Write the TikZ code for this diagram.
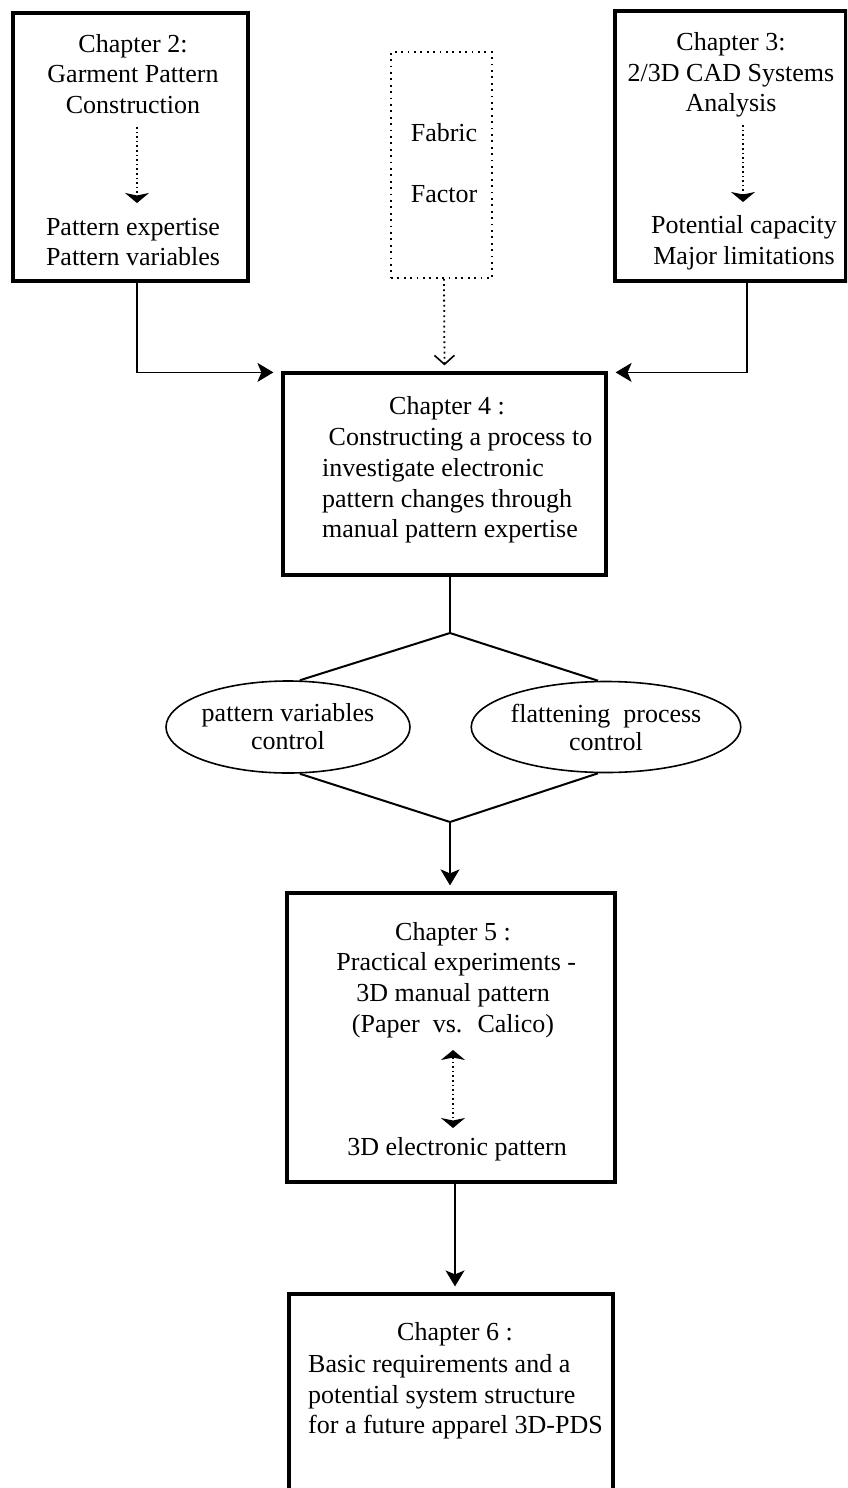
\documentclass[tikz,border=0pt]{standalone}
\usepackage{fontspec}
\setmainfont{Liberation Serif}
\usetikzlibrary{arrows.meta,shapes.geometric}

\begin{document}
\begin{tikzpicture}[x=1pt,y=-1pt,
  chapbox/.style={draw, line width=3.2pt, inner sep=0pt},
  factorbox/.style={draw, line width=1.8pt, dash pattern=on 1.8pt off 4.6pt, inner sep=0pt},
  txt/.style={font=\fontsize{26}{30.6}\selectfont, align=center, inner sep=0pt},
  txtleft/.style={font=\fontsize{26}{30.6}\selectfont, align=left, inner sep=0pt, anchor=west},
  oval/.style={draw, ellipse, line width=1.6pt, fill=white, inner sep=0pt,
               font=\fontsize{26}{28}\selectfont, align=center},
  conn/.style={line width=1.4pt, -{Stealth[length=16pt,width=19pt,inset=4pt]}},
  plainline/.style={line width=1.4pt},
  rhomb/.style={line width=2pt},
  dotarrow/.style={line width=1.6pt, dash pattern=on 1.6pt off 3pt,
                   -{Stealth[length=10pt,width=24pt,inset=2.5pt]}},
  dotboth/.style={line width=1.6pt, dash pattern=on 1.6pt off 3pt,
                  {Stealth[length=10pt,width=24pt,inset=2.5pt]}-{Stealth[length=10pt,width=24pt,inset=2.5pt]}},
  fabarrow/.style={line width=1.8pt, dash pattern=on 1.8pt off 3.4pt,
                   -{Straight Barb[length=9pt,width=20pt,line width=1.6pt]}}
]
\useasboundingbox (0,0) rectangle (847,1488);
\clip (0,0) rectangle (847,1488);

% chapter frames
\node[chapbox, minimum width=235pt, minimum height=268pt] (c2) at (130.5,147) {};
\node[factorbox, minimum width=101pt, minimum height=226pt] (fab) at (441.5,165) {};
\node[chapbox, minimum width=231pt, minimum height=270pt] (c3) at (730.5,146) {};
\node[chapbox, minimum width=323pt, minimum height=202pt] (c4) at (444.5,474) {};
\node[chapbox, minimum width=328pt, minimum height=289pt] (c5) at (451,1037.5) {};
\node[chapbox, minimum width=324pt, minimum height=216pt] (c6) at (451,1402) {};

% chapter 2
\node[txt] (c2a) at (133,74) {Chapter 2:\\Garment Pattern\\Construction};
\node[txt] (c2b) at (133,242) {Pattern expertise\\Pattern variables};
\coordinate (c2s) at (137,127);
\coordinate (c2e) at (137,203);
\draw[dotarrow] (c2s) -- (c2e);

% fabric factor
\node[txt] (fa) at (444,133) {Fabric};
\node[txt] (fb) at (444,194) {Factor};

% chapter 3
\node[txt] (c3a) at (731,75) {Chapter 3:\\2/3D CAD Systems\\Analysis};
\node[txt] (c3b) at (744,243) {Potential capacity\\Major limitations};
\coordinate (c3s) at (743,125);
\coordinate (c3e) at (743,202);
\draw[dotarrow] (c3s) -- (c3e);

% chapter 4
\node[txt] (c4a) at (447,408) {Chapter 4 :};
\node[txtleft] (c4b) at (322,486) {\ Constructing a process to\\investigate electronic\\pattern changes through\\manual pattern expertise};

% the two controls
\coordinate (dtop) at (450,633);
\coordinate (dbot) at (450,822);
\node[oval, minimum width=230pt, minimum height=92pt] (pv) at (288,727)
  {pattern variables\\control};
\node[oval, minimum width=233pt, minimum height=91pt] (fp) at (606,727)
  {flattening~ process\\control};

% chapter 5
\node[txt] (c5a) at (453,980) {Chapter 5 :\\\ Practical experiments -\\3D manual pattern\\(Paper~ vs.~ Calico)};
\node[txt] (c5b) at (457,1149) {3D electronic pattern};
\coordinate (c5s) at (453,1050);
\coordinate (c5e) at (453,1128);
\draw[dotboth] (c5s) -- (c5e);

% chapter 6
\node[txt] (c6a) at (455,1334) {Chapter 6 :};
\node[txtleft] (c6b) at (308,1397) {Basic requirements and a\\potential system structure\\for a future apparel 3D-PDS};

% connectors
\draw[conn] ([xshift=6.5pt]c2.south) |- ([xshift=-8pt,yshift=-1pt]c4.north west);
\draw[conn] ([xshift=16.5pt]c3.south) |- ([xshift=8pt,yshift=-1pt]c4.north east);
\draw[fabarrow] ([xshift=2.5pt]fab.south) -- ([yshift=6pt]c4.north);
\draw[plainline] (c4.south -| dtop) -- (dtop);
\draw[rhomb] (dtop) -- ([xshift=12pt]pv.north);
\draw[rhomb] (dtop) -- ([xshift=-8pt]fp.north);
\draw[rhomb] ([xshift=12pt]pv.south) -- (dbot);
\draw[rhomb] ([xshift=-8pt]fp.south) -- (dbot);
\draw[conn] (dbot) -- ([yshift=6pt]c5.north -| dbot);
\draw[conn] ([xshift=4pt]c5.south) -- ([xshift=4pt,yshift=6pt]c6.north);
\end{tikzpicture}
\end{document}
